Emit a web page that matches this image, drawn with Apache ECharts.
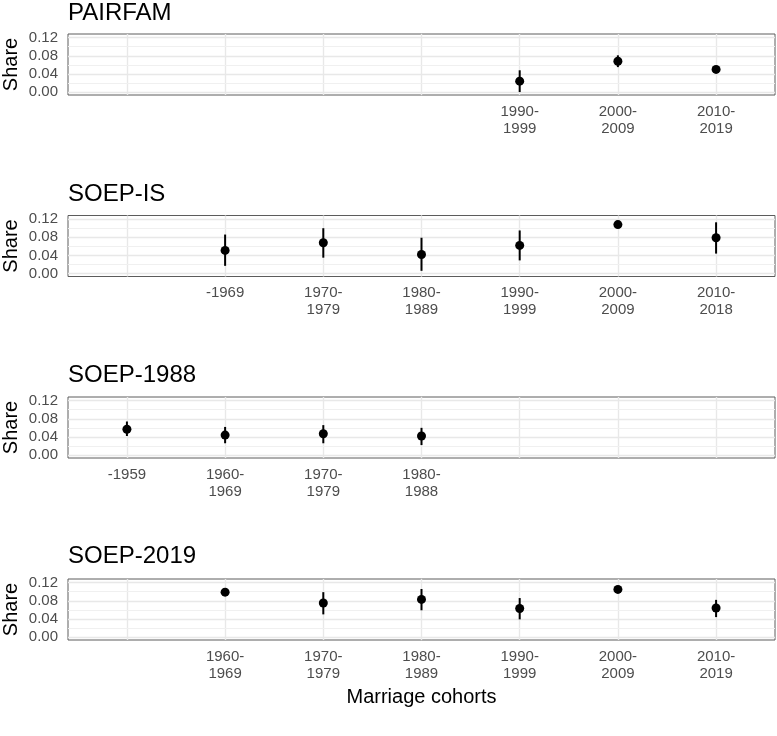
<!DOCTYPE html>
<html>
<head>
<meta charset="utf-8">
<script src="https://cdn.jsdelivr.net/npm/echarts@6/dist/echarts.min.js"></script>
<style>
html,body{margin:0;padding:0;background:#fff;}
#chart{width:777px;height:736px;}
</style>
</head>
<body>
<div id="chart"></div>
<script>
// ---- data ----
const panelTitles = ["PAIRFAM", "SOEP-IS", "SOEP-1988", "SOEP-2019"];
const cohortSlots = [0, 1, 2, 3, 4, 5, 6];
const yTickValues = [0, 0.04, 0.08, 0.12];
const yMinorValues = [0.02, 0.06, 0.10];

const pairfamPos = [4, 5, 6];
const pairfamLabels = ["1990-\n1999", "2000-\n2009", "2010-\n2019"];
const pairfamShare = [0.024, 0.068, 0.050];
const pairfamLower = [0.000, 0.055, 0.046];
const pairfamUpper = [0.048, 0.081, 0.054];

const soepIsPos = [1, 2, 3, 4, 5, 6];
const soepIsLabels = ["-1969", "1970-\n1979", "1980-\n1989", "1990-\n1999", "2000-\n2009", "2010-\n2018"];
const soepIsShare = [0.051, 0.068, 0.042, 0.062, 0.108, 0.079];
const soepIsLower = [0.017, 0.035, 0.006, 0.029, 0.104, 0.044];
const soepIsUpper = [0.086, 0.100, 0.079, 0.095, 0.112, 0.113];

const soep1988Pos = [0, 1, 2, 3];
const soep1988Labels = ["-1959", "1960-\n1969", "1970-\n1979", "1980-\n1988"];
const soep1988Share = [0.057, 0.044, 0.047, 0.042];
const soep1988Lower = [0.042, 0.026, 0.026, 0.022];
const soep1988Upper = [0.074, 0.062, 0.066, 0.060];

const soep2019Pos = [1, 2, 3, 4, 5, 6];
const soep2019Labels = ["1960-\n1969", "1970-\n1979", "1980-\n1989", "1990-\n1999", "2000-\n2009", "2010-\n2019"];
const soep2019Share = [0.099, 0.075, 0.083, 0.063, 0.105, 0.064];
const soep2019Lower = [0.095, 0.050, 0.059, 0.039, 0.101, 0.044];
const soep2019Upper = [0.103, 0.099, 0.106, 0.086, 0.109, 0.082];

const panels = [
  {pos: pairfamPos, labels: pairfamLabels, share: pairfamShare, lower: pairfamLower, upper: pairfamUpper},
  {pos: soepIsPos, labels: soepIsLabels, share: soepIsShare, lower: soepIsLower, upper: soepIsUpper},
  {pos: soep1988Pos, labels: soep1988Labels, share: soep1988Share, lower: soep1988Lower, upper: soep1988Upper},
  {pos: soep2019Pos, labels: soep2019Labels, share: soep2019Share, lower: soep2019Lower, upper: soep2019Upper}
];

// ---- layout ----
const FONT = "'Liberation Sans', Arial, Helvetica, sans-serif";
const gridTops = [34, 215.5, 397, 579];
const titleTops = [1, 182.5, 363.5, 544.5];
const gridH = 61;
const GRID_COLOR = '#e8e8e8';

const chart = echarts.init(document.getElementById('chart'), null, {renderer: 'canvas'});

const option = {
  animation: false,
  backgroundColor: '#ffffff',
  title: [], grid: [], xAxis: [], yAxis: [], series: []
};

panels.forEach((p, i) => {
  option.title.push({
    text: panelTitles[i], left: 68, top: titleTops[i], padding: 0,
    textStyle: {fontFamily: FONT, fontSize: 24, fontWeight: 'normal', color: '#000'}
  });
  option.grid.push({
    left: 68, right: 2, top: gridTops[i], height: gridH,
    show: true, borderColor: '#5c5c5c', borderWidth: 1, backgroundColor: 'transparent',
    containLabel: false, outerBoundsMode: 'none'
  });
  const labelMap = {};
  p.pos.forEach((v, k) => { labelMap[v] = p.labels[k]; });
  option.xAxis.push({
    type: 'value', gridIndex: i, min: -0.6, max: 6.6,
    axisLine: {show: false}, axisTick: {show: false}, splitLine: {show: false},
    axisLabel: {
      customValues: p.pos, margin: 8,
      fontFamily: FONT, fontSize: 15, color: '#4d4d4d', lineHeight: 17,
      formatter: v => (labelMap[v] !== undefined ? labelMap[v] : '')
    },
    name: i === 3 ? 'Marriage cohorts' : '',
    nameLocation: 'middle', nameGap: 47, nameMoveOverlap: false,
    nameTextStyle: {fontFamily: FONT, fontSize: 20, color: '#000'}
  });
  option.yAxis.push({
    type: 'value', gridIndex: i, min: -0.0065, max: 0.128,
    axisLine: {show: false}, axisTick: {show: false}, splitLine: {show: false},
    axisLabel: {
      customValues: yTickValues, margin: 10,
      fontFamily: FONT, fontSize: 15, color: '#4d4d4d',
      formatter: v => (yTickValues.some(t => Math.abs(t - v) < 1e-9) ? v.toFixed(2) : '')
    },
    name: 'Share', nameLocation: 'middle', nameGap: 47, nameMoveOverlap: false,
    nameTextStyle: {fontFamily: FONT, fontSize: 20, color: '#000'}
  });
  // grid lines
  option.series.push({
    type: 'line', xAxisIndex: i, yAxisIndex: i, data: [], z: 1, silent: true,
    markLine: {
      z: 1, silent: true, symbol: ['none', 'none'], label: {show: false}, animation: false,
      emphasis: {disabled: true},
      data: [
        ...cohortSlots.map(v => ({xAxis: v, lineStyle: {color: GRID_COLOR, width: 1.4, type: 'solid'}})),
        ...yTickValues.map(v => ({yAxis: v, lineStyle: {color: GRID_COLOR, width: 1.4, type: 'solid'}})),
        ...yMinorValues.map(v => ({yAxis: v, lineStyle: {color: '#f0f0f0', width: 1, type: 'solid'}}))
      ]
    }
  });
  // error bars
  option.series.push({
    type: 'custom', xAxisIndex: i, yAxisIndex: i, z: 10, silent: true,
    data: p.pos.map((v, k) => [v, p.lower[k], p.upper[k]]),
    encode: {x: 0, y: [1, 2]},
    renderItem: (params, api) => {
      const a = api.coord([api.value(0), api.value(1)]);
      const b = api.coord([api.value(0), api.value(2)]);
      return {type: 'line', shape: {x1: a[0], y1: a[1], x2: b[0], y2: b[1]},
              style: {stroke: '#000', lineWidth: 2}};
    }
  });
  // points
  option.series.push({
    type: 'scatter', xAxisIndex: i, yAxisIndex: i, z: 11, silent: true,
    symbol: 'circle', symbolSize: 9,
    itemStyle: {color: '#000', opacity: 1},
    data: p.pos.map((v, k) => [v, p.share[k]])
  });
});

chart.setOption(option);
</script>
</body>
</html>
